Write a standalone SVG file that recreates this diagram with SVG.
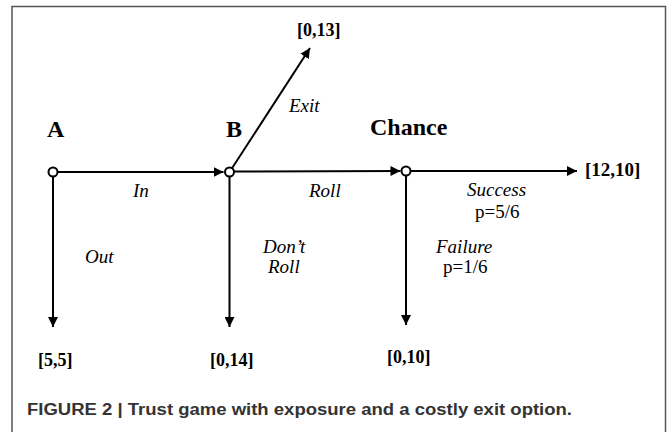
<svg xmlns="http://www.w3.org/2000/svg" width="667" height="432" viewBox="0 0 667 432">
<style>
.frame{fill:none;stroke:#555;stroke-width:1.5}
.edge{fill:none;stroke:#000;stroke-width:2;marker-end:url(#arr)}
.dot{fill:#fff;stroke:#000;stroke-width:2}
.title{font-family:"Liberation Serif","Times New Roman",serif;font-weight:bold;font-size:24px;fill:#000}
.pay{font-family:"Liberation Serif","Times New Roman",serif;font-weight:bold;font-size:18px;fill:#000}
.lab{font-family:"Liberation Serif","Times New Roman",serif;font-style:italic;font-size:19px;fill:#000}
.prob{font-family:"Liberation Serif","Times New Roman",serif;font-size:19px;fill:#000}
.cap{font-family:"Liberation Sans",Arial,sans-serif;font-weight:bold;font-size:16px;fill:#333}
</style>
<defs>
<marker id="arr" markerUnits="userSpaceOnUse" markerWidth="11" markerHeight="10" refX="10" refY="5" orient="auto">
<path d="M0,0 L10,5 L0,10 z" fill="#000"/>
</marker>
</defs>
<rect class="frame" x="12" y="6.5" width="653.5" height="450"/>
<g id="connectors">
<line class="edge" x1="57.5" y1="172" x2="223.5" y2="172"/>
<line class="edge" x1="53" y1="176.5" x2="53" y2="327"/>
<line class="edge" x1="232" y1="168.3" x2="310" y2="48"/>
<line class="edge" x1="234" y1="171.5" x2="400.5" y2="171"/>
<line class="edge" x1="229.5" y1="176.5" x2="229.5" y2="327"/>
<line class="edge" x1="410.5" y1="171" x2="577" y2="171"/>
<line class="edge" x1="406" y1="175.5" x2="406" y2="325"/>
<text class="lab" x="133" y="197">In</text>
<text class="lab" x="85" y="263">Out</text>
<text class="lab" x="289" y="112">Exit</text>
<text class="lab" x="309" y="197">Roll</text>
<text class="lab" x="263" y="253">Don’t</text>
<text class="lab" x="268" y="273">Roll</text>
<text class="lab" x="467" y="196">Success</text>
<text class="prob" x="475" y="218">p=5/6</text>
<text class="lab" x="436" y="253">Failure</text>
<text class="prob" x="443" y="273">p=1/6</text>
</g>
<g id="nodeA">
<circle class="dot" cx="53" cy="172" r="4.5"/>
<text class="title" x="47" y="137">A</text>
</g>
<g id="nodeB">
<circle class="dot" cx="229.5" cy="172" r="4.5"/>
<text class="title" x="226" y="137">B</text>
</g>
<g id="nodeChance">
<circle class="dot" cx="406" cy="171" r="4.5"/>
<text class="title" x="370" y="135">Chance</text>
</g>
<g id="payoffExit"><text class="pay" x="297" y="36">[0,13]</text></g>
<g id="payoffSuccess"><text class="pay" x="585" y="176" style="font-size:19px">[12,10]</text></g>
<g id="payoffOut"><text class="pay" x="38" y="366">[5,5]</text></g>
<g id="payoffDontRoll"><text class="pay" x="210" y="366">[0,14]</text></g>
<g id="payoffFailure"><text class="pay" x="387" y="363">[0,10]</text></g>
<text class="cap" x="27" y="415" textLength="545" lengthAdjust="spacingAndGlyphs">FIGURE 2 | Trust game with exposure and a costly exit option.</text>
</svg>
